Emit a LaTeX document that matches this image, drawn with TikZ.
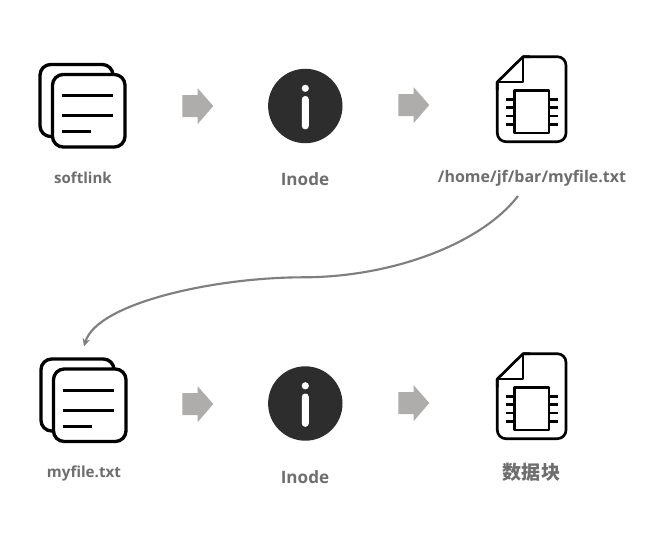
\documentclass[tikz,border=0pt]{standalone}
\usepackage{fontspec}
\setmainfont{Open Sans}
\newfontfamily\cjkfont{Noto Sans CJK SC}
\usetikzlibrary{arrows.meta}
\definecolor{lbl}{HTML}{6E6E6E}
\definecolor{blockgray}{HTML}{AEADAB}
\definecolor{disc}{HTML}{2D2D2D}
\definecolor{curvegray}{HTML}{7F7F7F}
\tikzset{
  icon/.style={draw=black,line width=2.5pt,line join=round,fill=white},
  iconthin/.style={draw=black,line width=2pt,line join=round},
  textline/.style={draw=black,line width=2.5pt},
  lab/.style={inner sep=0pt,text=lbl,font=\bfseries\fontsize{#1}{#1}\selectfont},
  labcjk/.style={inner sep=0pt,text=lbl,font=\cjkfont\bfseries\fontsize{#1}{#1}\selectfont},
  flow/.style={fill=blockgray,draw=none},
  link/.style={draw=curvegray,line width=1.6pt,-{Stealth[length=6pt,width=5.5pt]}}
}
\newcommand{\docsicon}[2]{%
  \begin{scope}[shift={(#1,#2)}]
    \draw[icon,rounded corners=8pt] (40,64.5) rectangle (113,136.5);
    \draw[icon,rounded corners=8pt] (52.5,74.5) rectangle (125,147);
    \draw[textline] (61.5,95.7) -- (113,95.7);
    \draw[textline] (61.5,115.7) -- (113,115.7);
    \draw[textline] (61.5,131.7) -- (91,131.7);
  \end{scope}}
\newcommand{\blockarrow}[2]{%
  \fill[flow,shift={(#1,#2)}] (182.3,95) -- (197.7,95) -- (197.7,88.3) -- (213.3,106) -- (197.7,124) -- (197.7,117) -- (182.3,117) -- cycle;}
\newcommand{\infoicon}[2]{%
  \begin{scope}[shift={(#1,#2)}]
    \fill[disc] (305.3,106) circle[radius=37.2];
    \fill[white] (305.3,88.3) circle[radius=3.6];
    \fill[white,rounded corners=2.5pt] (301.8,96) rectangle (308.8,129.3);
  \end{scope}}
\newcommand{\fileicon}[2]{%
  \begin{scope}[shift={(#1,#2)}]
    \draw[iconthin,rounded corners=6.5pt] (523,56.7) -- (566,56.7) -- (566,141.7) -- (497.3,141.7) -- (497.3,82);
    \draw[iconthin] (497.3,90) -- (497.3,82) -- (523,56.7) -- (530,56.7);
    \draw[iconthin] (523,56.7) -- (523,82) -- (497.3,82);
    \draw[iconthin] (514.3,90.7) rectangle (549,133);
    \foreach \py in {99.3,107.7,116,124.3} {
      \draw[iconthin] (505.7,\py) -- (514.3,\py);
      \draw[iconthin] (549,\py) -- (557.7,\py);
    }
  \end{scope}}
\begin{document}
\begin{tikzpicture}[x=0.75pt,y=-0.75pt]
\useasboundingbox (0,0) rectangle (666,533);
\fill[white] (0,0) rectangle (666,533);
\docsicon{0}{0}
\blockarrow{0}{0}
\infoicon{0}{0}
\blockarrow{216}{-1}
\fileicon{0}{0}
\docsicon{1}{294.5}
\blockarrow{0}{298}
\infoicon{0}{297.5}
\blockarrow{216}{297}
\fileicon{0}{297}
\node[lab=11.3] (softlink) at (83,178) {softlink};
\node[lab=12.8] (inodeA) at (305,179.5) {Inode};
\node[lab=12] (path) at (532,178) {/home/jf/bar/myfile.txt};
\node[lab=11.4] (myfile) at (84,473) {myfile.txt};
\node[lab=12.8] (inodeB) at (305,477) {Inode};
\node[labcjk=14.3] (blocks) at (531.5,472) {数据块};
\coordinate (linkstart) at (518,196);
\coordinate (linkmid) at (303,277.3);
\coordinate (linkend) at (84,346.5);
\draw[link] (linkstart) .. controls (480,245) and (390,277.3) .. (linkmid) .. controls (215,277.3) and (97,303) .. (linkend);
\end{tikzpicture}
\end{document}
